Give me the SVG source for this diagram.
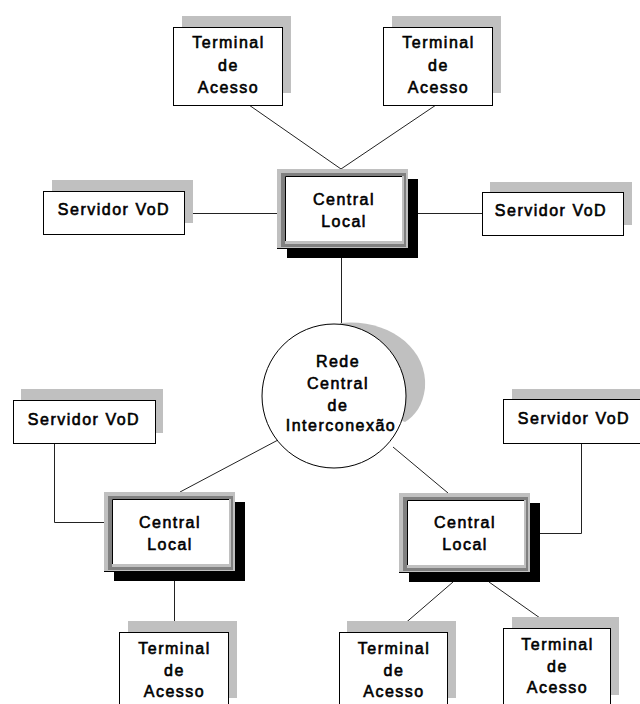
<svg xmlns="http://www.w3.org/2000/svg" width="640" height="704" viewBox="0 0 640 704">
  <style>
    .bg { fill: #ffffff; }
    .shadow { fill: #c0c0c0; }
    .box { fill: #ffffff; stroke: #000000; stroke-width: 1; }
    .link { fill: none; stroke: #222222; stroke-width: 1; }
    .lbl { font-family: "Liberation Sans", Arial, sans-serif; font-size: 16px; fill: #000000; text-anchor: middle; letter-spacing: 1.5px; stroke: #000000; stroke-width: 0.6px; }
    .fr-light { fill: #c0c0c0; }
    .fr-dark { fill: #808080; }
    .fr-shadow { fill: #000000; }
    .fr-inner { fill: #ffffff; }
    .fr-edge { fill: none; stroke: #000000; stroke-width: 1; }
  </style>
  <defs>
    <!-- Central Local: bevelled grey frame with black drop shadow (131 x 79) -->
    <g id="central-frame">
      <rect class="fr-shadow" x="10" y="10" width="131" height="79"/>
      <rect class="fr-shadow" x="0" y="76" width="12" height="4"/>
      <rect class="fr-light" x="0" y="0" width="131" height="79"/>
      <rect class="fr-dark" x="4" y="4" width="125" height="74"/>
      <rect class="fr-light" x="8" y="7" width="119" height="68"/>
      <rect class="fr-inner" x="9" y="8" width="116" height="64"/>
      <path class="fr-edge" d="M8.5,72 V7.5 H125"/>
    </g>
  </defs>

  <rect class="bg" x="0" y="0" width="640" height="704"/>

  <!-- connectors -->
  <g id="connectors">
    <line class="link" x1="249" y1="105" x2="341" y2="169"/>
    <line class="link" x1="436" y1="105" x2="341" y2="169"/>
    <line class="link" x1="184" y1="213.5" x2="277" y2="213.5"/>
    <line class="link" x1="408" y1="213.5" x2="482" y2="213.5"/>
    <line class="link" x1="341.5" y1="258" x2="341.5" y2="324"/>
    <line class="link" x1="278" y1="440" x2="180" y2="492"/>
    <line class="link" x1="393" y1="447" x2="448" y2="493"/>
    <polyline class="link" points="54.5,443 54.5,522.5 104,522.5"/>
    <polyline class="link" points="581.5,443 581.5,533.5 540,533.5"/>
    <line class="link" x1="174.5" y1="581" x2="174.5" y2="632"/>
    <line class="link" x1="453" y1="582" x2="395" y2="632"/>
    <line class="link" x1="489" y1="582" x2="557" y2="630"/>
  </g>

  <!-- access terminals -->
  <g id="terminal-top-left">
    <rect class="shadow" x="182" y="16" width="109" height="77"/>
    <rect class="box" x="173.5" y="27.5" width="109" height="78"/>
    <text class="lbl" x="228.5" y="48">Terminal</text>
    <text class="lbl" x="228.5" y="71">de</text>
    <text class="lbl" x="228.5" y="93">Acesso</text>
  </g>
  <g id="terminal-top-right">
    <rect class="shadow" x="392" y="16" width="109" height="77"/>
    <rect class="box" x="383.5" y="27.5" width="109" height="78"/>
    <text class="lbl" x="438.5" y="48">Terminal</text>
    <text class="lbl" x="438.5" y="71">de</text>
    <text class="lbl" x="438.5" y="93">Acesso</text>
  </g>

  <!-- VoD servers -->
  <g id="server-top-left">
    <rect class="shadow" x="52" y="180" width="141" height="43"/>
    <rect class="box" x="43.5" y="191.5" width="141" height="43"/>
    <text class="lbl" x="114" y="215">Servidor VoD</text>
  </g>
  <g id="server-top-right">
    <rect class="shadow" x="490" y="182" width="142" height="43"/>
    <rect class="box" x="482.5" y="192.5" width="141" height="43"/>
    <text class="lbl" x="551" y="216">Servidor VoD</text>
  </g>

  <!-- upper local exchange -->
  <g id="central-top">
    <use href="#central-frame" x="277" y="169"/>
    <text class="lbl" x="344" y="205">Central</text>
    <text class="lbl" x="344" y="227">Local</text>
  </g>

  <!-- interconnection network -->
  <g id="core-network">
    <path class="shadow" d="M340,323 C387,318 428,347 425,388 C423,405 415,416 405,422 L334,396 Z"/>
    <circle class="box" cx="334" cy="396" r="72"/>
    <text class="lbl" x="338" y="367">Rede</text>
    <text class="lbl" x="338" y="389">Central</text>
    <text class="lbl" x="338" y="411">de</text>
    <text class="lbl" x="341" y="431">Interconexão</text>
  </g>

  <g id="server-bottom-left">
    <rect class="shadow" x="21" y="389" width="142" height="44"/>
    <rect class="box" x="13.5" y="400.5" width="142" height="43"/>
    <text class="lbl" x="84" y="425">Servidor VoD</text>
  </g>
  <g id="server-bottom-right">
    <rect class="shadow" x="512" y="389" width="141" height="44"/>
    <rect class="box" x="503.5" y="399.5" width="141" height="44"/>
    <text class="lbl" x="574" y="424">Servidor VoD</text>
  </g>

  <!-- lower local exchanges -->
  <g id="central-bottom-left">
    <use href="#central-frame" x="104" y="492"/>
    <text class="lbl" x="170" y="528">Central</text>
    <text class="lbl" x="170" y="550">Local</text>
  </g>
  <g id="central-bottom-right">
    <use href="#central-frame" x="399" y="493"/>
    <text class="lbl" x="465" y="528">Central</text>
    <text class="lbl" x="465" y="550">Local</text>
  </g>

  <g id="terminal-bottom-left">
    <rect class="shadow" x="128" y="621" width="109" height="77"/>
    <rect class="box" x="119.5" y="632.5" width="109" height="78"/>
    <text class="lbl" x="174.5" y="654">Terminal</text>
    <text class="lbl" x="174.5" y="676">de</text>
    <text class="lbl" x="174.5" y="697">Acesso</text>
  </g>
  <g id="terminal-bottom-middle">
    <rect class="shadow" x="347" y="621" width="109" height="77"/>
    <rect class="box" x="339.5" y="632.5" width="108" height="78"/>
    <text class="lbl" x="394" y="654">Terminal</text>
    <text class="lbl" x="394" y="676">de</text>
    <text class="lbl" x="394" y="697">Acesso</text>
  </g>
  <g id="terminal-bottom-right">
    <rect class="shadow" x="512" y="617" width="107" height="78"/>
    <rect class="box" x="503.5" y="628.5" width="107" height="78"/>
    <text class="lbl" x="557.5" y="650">Terminal</text>
    <text class="lbl" x="557.5" y="672">de</text>
    <text class="lbl" x="557.5" y="693">Acesso</text>
  </g>
</svg>
